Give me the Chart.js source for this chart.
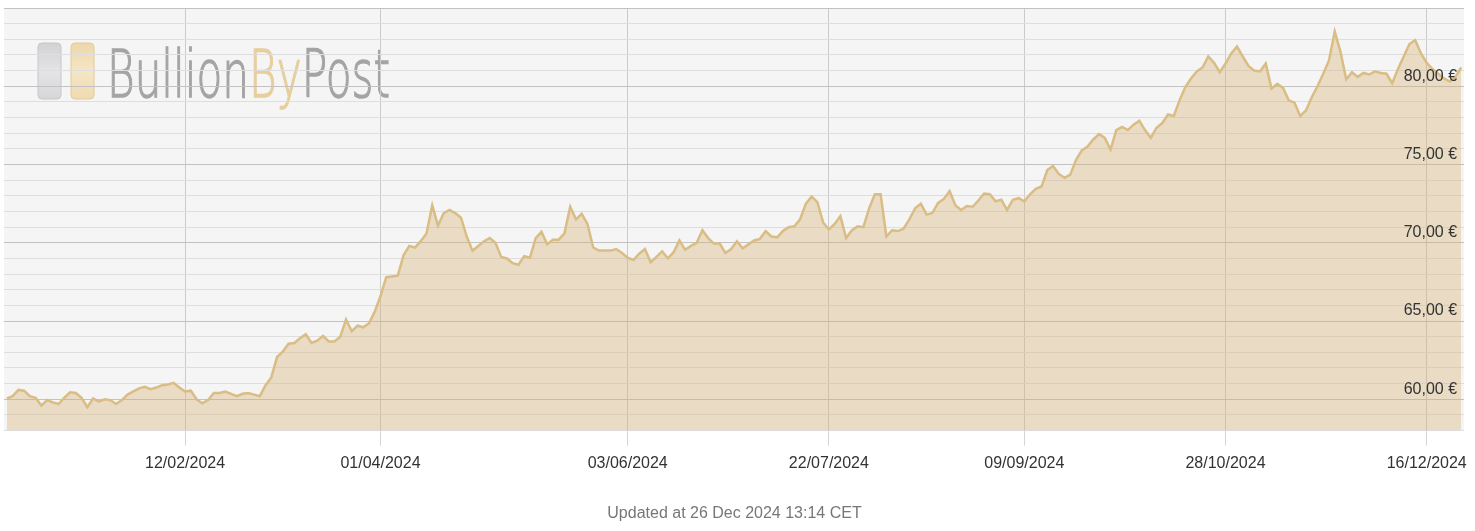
<!DOCTYPE html>
<html>
<head>
<meta charset="utf-8">
<script src="https://cdn.jsdelivr.net/npm/chart.js@4.4.1/dist/chart.umd.min.js"></script>
<style>
    body { margin: 0; background: #fff; }
    .wrap { width: 1475px; height: 531px; position: relative; }
</style>
</head>
<body>
<div class="wrap"><canvas id="goldChart"></canvas></div>
<script>
// gold price per gram in EUR, one value per trading day (27 Dec 2023 - 24 Dec 2024)
const prices = [
    60.05, 60.2, 60.6, 60.55, 60.2, 60.1, 59.6, 59.95, 59.8, 59.7,
    60.1, 60.45, 60.4, 60.1, 59.5, 60.05, 59.85, 60.0, 59.95, 59.7,
    59.95, 60.3, 60.5, 60.7, 60.8, 60.65, 60.75, 60.9, 60.95, 61.05,
    60.75, 60.5, 60.55, 60.0, 59.75, 59.95, 60.4, 60.4, 60.5, 60.35,
    60.2, 60.35, 60.4, 60.3, 60.2, 60.9, 61.4, 62.7, 63.05, 63.55,
    63.6, 63.9, 64.15, 63.6, 63.75, 64.05, 63.7, 63.7, 64.0, 65.1,
    64.35, 64.7, 64.6, 64.85, 65.6, 66.6, 67.8, 67.85, 67.9, 69.2,
    69.8, 69.7, 70.1, 70.6, 72.4, 71.1, 71.9, 72.1, 71.9, 71.6,
    70.4, 69.5, 69.8, 70.1, 70.3, 70.0, 69.1, 69.0, 68.7, 68.6,
    69.15, 69.05, 70.3, 70.7, 69.9, 70.2, 70.2, 70.6, 72.3, 71.5,
    71.85, 71.2, 69.7, 69.5, 69.5, 69.5, 69.6, 69.35, 69.05, 68.9,
    69.3, 69.6, 68.75, 69.1, 69.45, 69.0, 69.4, 70.15, 69.55, 69.8,
    70.0, 70.8, 70.3, 69.95, 69.95, 69.35, 69.6, 70.1, 69.65, 69.9,
    70.15, 70.25, 70.75, 70.4, 70.35, 70.75, 71.0, 71.05, 71.5, 72.5,
    72.95, 72.6, 71.3, 70.85, 71.2, 71.7, 70.3, 70.8, 71.05, 71.0,
    72.2, 73.1, 73.1, 70.4, 70.8, 70.75, 70.9, 71.5, 72.2, 72.5,
    71.8, 71.9, 72.55, 72.8, 73.3, 72.4, 72.1, 72.35, 72.3, 72.7,
    73.15, 73.1, 72.65, 72.75, 72.1, 72.75, 72.85, 72.65, 73.1, 73.45,
    73.6, 74.65, 74.9, 74.4, 74.15, 74.35, 75.3, 75.9, 76.15, 76.6,
    76.95, 76.7, 75.95, 77.2, 77.4, 77.2, 77.55, 77.8, 77.2, 76.7,
    77.35, 77.65, 78.2, 78.1, 79.1, 79.95, 80.5, 80.95, 81.2, 81.9,
    81.5, 80.9, 81.45, 82.1, 82.55, 81.9, 81.3, 81.0, 80.95, 81.45,
    79.85, 80.15, 79.9, 79.1, 78.95, 78.1, 78.45, 79.3, 80.0, 80.8,
    81.65, 83.5, 82.2, 80.45, 80.9, 80.6, 80.85, 80.75, 80.95, 80.85,
    80.8, 80.2, 81.1, 81.9, 82.7, 82.95, 82.1, 81.5, 81.1, 80.8,
    80.5, 80.3, 80.6, 81.2
];

// x tick labels and the trading day index they sit on
const tickLabels = ["12/02/2024", "01/04/2024", "03/06/2024", "22/07/2024", "09/09/2024", "28/10/2024", "16/12/2024"];
const tickIndex = [31, 65, 108, 143, 177, 212, 247];

// price levels that get a label inside the plot
const priceLabels = [60, 65, 70, 75, 80];

const updatedText = "Updated at 26 Dec 2024 13:14 CET";

const points = prices.map((p, i) => ({ x: i, y: p }));
const labelFont = "16px 'Liberation Sans', Arial, sans-serif";

// grey plot background + BullionByPost watermark
const backdrop = {
    id: "backdrop",
    beforeDraw(chart) {
        const { ctx, chartArea: a } = chart;
        ctx.save();
        ctx.fillStyle = "#f5f5f5";
        ctx.fillRect(a.left, a.top, a.right - a.left, a.bottom - a.top);

        // two bars
        let g = ctx.createLinearGradient(0, 43, 0, 99);
        g.addColorStop(0, "#d2d2d4");
        g.addColorStop(0.5, "#e4e4e6");
        g.addColorStop(1, "#d6d6d8");
        ctx.fillStyle = g;
        ctx.strokeStyle = "#c6c6c8";
        ctx.beginPath();
        ctx.roundRect(38, 43, 23, 56, 4);
        ctx.fill();
        ctx.stroke();
        g = ctx.createLinearGradient(0, 43, 0, 99);
        g.addColorStop(0, "#edd7aa");
        g.addColorStop(0.5, "#f5e6c6");
        g.addColorStop(1, "#efdbb2");
        ctx.fillStyle = g;
        ctx.strokeStyle = "#e2cb9a";
        ctx.beginPath();
        ctx.roundRect(71, 43, 23, 56, 4);
        ctx.fill();
        ctx.stroke();

        // condensed logo text, thin face with a light stroke
        ctx.font = "200 66px 'DejaVu Sans', sans-serif";
        ctx.textBaseline = "alphabetic";
        ctx.lineWidth = 1.4;
        const parts = [["Bullion", "#a4a4a4"], ["By", "#e6cf9c"], ["Post", "#a4a4a4"]];
        const full = ctx.measureText("BullionByPost").width;
        ctx.translate(107, 97);
        ctx.scale(283 / full, 1);
        let x = 0;
        parts.forEach(([t, c]) => {
            ctx.fillStyle = c;
            ctx.strokeStyle = c;
            ctx.fillText(t, x, 0);
            ctx.strokeText(t, x, 0);
            x += ctx.measureText(t).width;
        });
        ctx.restore();
    }
};

// euro labels sit just above their grid line, right side of the plot
const priceTicks = {
    id: "priceTicks",
    afterDatasetsDraw(chart) {
        const { ctx, chartArea: a, scales } = chart;
        ctx.save();
        ctx.font = labelFont;
        ctx.fillStyle = "#333";
        ctx.textAlign = "right";
        ctx.textBaseline = "middle";
        priceLabels.forEach((v) => {
            const y = scales.y.getPixelForValue(v) - 10;
            ctx.fillText(v.toFixed(2).replace(".", ",") + " €", a.right - 7, y);
        });
        ctx.restore();
    }
};

new Chart(document.getElementById("goldChart"), {
    type: "line",
    data: {
        datasets: [
            {
                data: points,
                borderColor: "#dabd85",
                borderWidth: 2.5,
                backgroundColor: "rgba(214,176,112,0.36)",
                fill: "start",
                pointRadius: 0,
                tension: 0,
            },
        ],
    },
    options: {
        responsive: true,
        maintainAspectRatio: false,
        animation: false,
        devicePixelRatio: 1,
        layout: { padding: { left: 4, right: 10, top: 8, bottom: 0 } },
        plugins: {
            legend: { display: false },
            tooltip: { enabled: false },
            title: {
                display: true,
                position: "bottom",
                text: updatedText,
                color: "#777",
                font: { family: "'Liberation Sans', Arial, sans-serif", size: 16, weight: "normal" },
                padding: { top: 23, bottom: 8 },
            },
        },
        scales: {
            x: {
                type: "linear",
                min: -0.5,
                max: 253.5,
                afterBuildTicks: (scale) => {
                    scale.ticks = tickIndex.map((v) => ({ value: v }));
                },
                grid: {
                    color: "#cbcbcb",
                    drawTicks: true,
                    tickLength: 15,
                    tickColor: "#d5d5d5",
                },
                border: { display: false },
                ticks: {
                    autoSkip: false,
                    maxRotation: 0,
                    padding: 8,
                    color: "#333",
                    font: { family: "'Liberation Sans', Arial, sans-serif", size: 16 },
                    callback: (v) => tickLabels[tickIndex.indexOf(v)],
                },
            },
            y: {
                position: "right",
                min: 58,
                max: 85,
                grid: {
                    drawTicks: false,
                    color: (c) => (c.tick && c.tick.value % 5 === 0 ? "#c2c2c2" : "#dedede"),
                },
                border: { display: false },
                ticks: {
                    display: false,
                    stepSize: 1,
                    maxTicksLimit: 100,
                },
            },
        },
    },
    plugins: [backdrop, priceTicks],
});
</script>
</body>
</html>
